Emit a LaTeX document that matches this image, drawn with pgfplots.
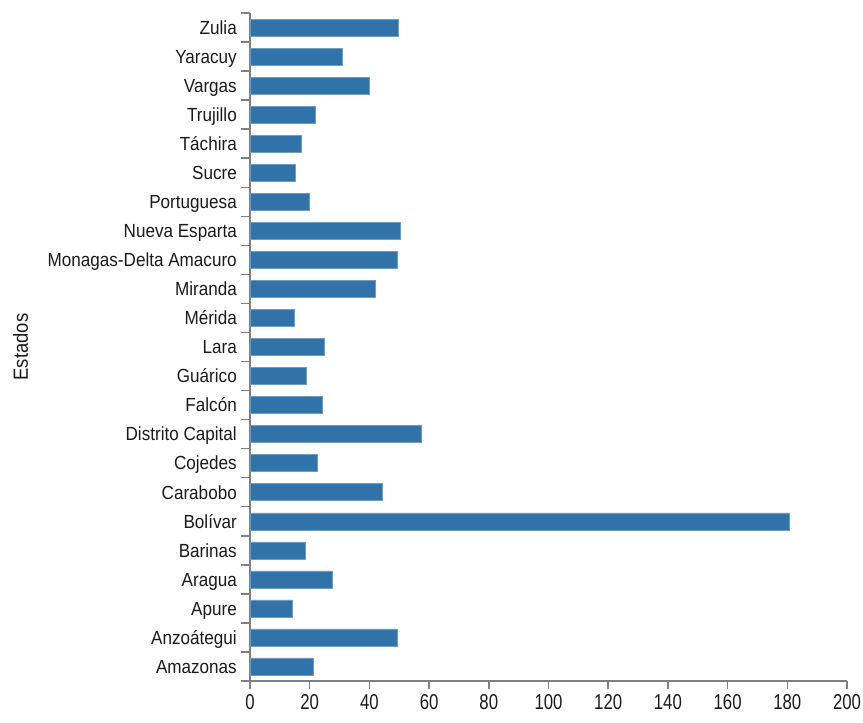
\documentclass[border=0pt]{standalone}
\usepackage{pgfplots}
\pgfplotsset{compat=1.18}
\usepackage{fontspec}
\setmainfont[FakeStretch=0.9]{Liberation Sans}
\newfontfamily\numfont[FakeStretch=0.78]{Liberation Sans}
\definecolor{barblue}{RGB}{49,115,168}
\definecolor{axgray}{RGB}{128,128,128}
\definecolor{txt}{RGB}{26,26,26}
\begin{document}
\begin{tikzpicture}
\useasboundingbox (-250pt,-42pt) rectangle (613pt,681pt);
\begin{axis}[
  scale only axis,
  width=597pt, height=668pt,
  xmin=0, xmax=200,
  ymin=-0.5, ymax=22.5,
  axis lines*=left,
  axis line style={axgray, line width=1.5pt},
  xbar, bar width=17pt,
  xtick={0,20,...,200},
  ytick={-0.5,0.5,...,22.5},
  yticklabels={},
  extra y ticks={0,...,22},
  extra y tick labels={Amazonas,Anzoátegui,Apure,Aragua,Barinas,Bolívar,Carabobo,Cojedes,Distrito Capital,Falcón,Guárico,Lara,Mérida,Miranda,Monagas-Delta Amacuro,Nueva Esparta,Portuguesa,Sucre,Táchira,Trujillo,Vargas,Yaracuy,Zulia},
  extra y tick style={major tick length=0pt, tick style={draw=none}},
  tick align=outside,
  major tick length=8.5pt,
  every tick/.style={axgray, line width=1.5pt},
  /pgf/number format/assume math mode=true,
  yticklabel style={font=\fontsize{19}{22}\selectfont, text=txt, inner sep=0pt, anchor=east, text height=13.6pt, text depth=0pt, xshift=-13pt},
  xticklabel style={font=\numfont\fontsize{21.5}{24}\selectfont, text=txt, inner sep=0pt, anchor=north, yshift=-5pt},
  ylabel={Estados},
  ylabel style={at={(axis description cs:-0.3844,0.5)}, anchor=center, font=\fontsize{20.5}{23}\selectfont, text=txt, inner sep=0pt},
  clip=false,
]
\addplot[fill=barblue, draw=barblue!70!white, line width=0.5pt] coordinates {
(21.3,0) (49.4,1) (14.0,2) (27.7,3) (18.6,4) (180.7,5) (44.2,6) (22.6,7)
(57.4,8) (24.1,9) (18.8,10) (25.0,11) (14.7,12) (41.8,13) (49.2,14) (50.4,15)
(19.8,16) (15.1,17) (17.3,18) (21.9,19) (40.0,20) (31.0,21) (49.5,22)
};
\end{axis}
\end{tikzpicture}
\end{document}
